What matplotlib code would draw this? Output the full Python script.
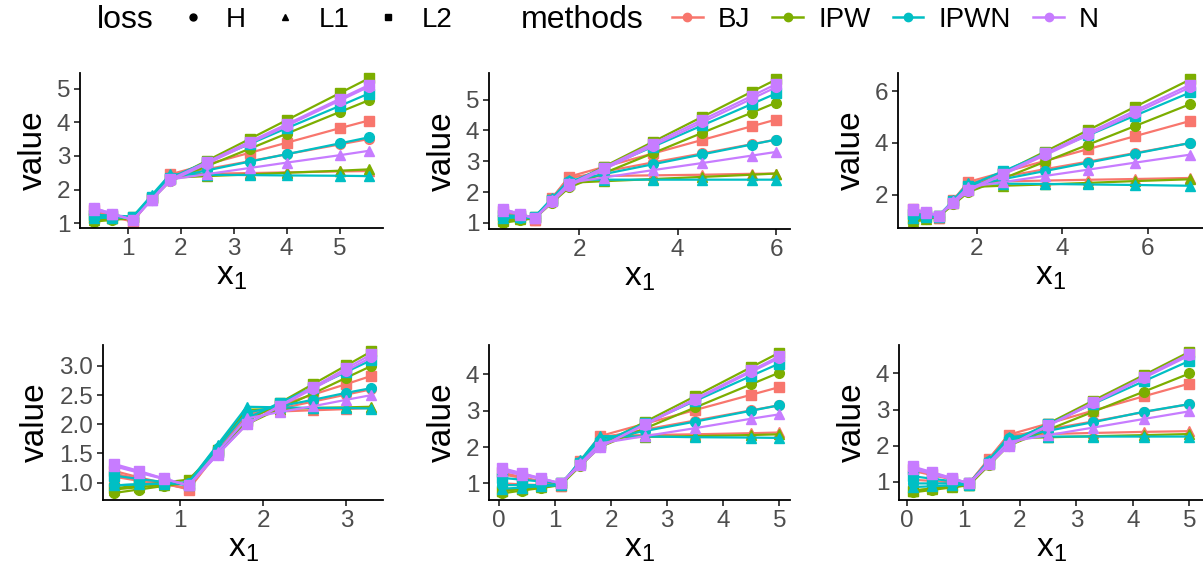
import matplotlib
matplotlib.use("Agg")
import matplotlib.pyplot as plt
from matplotlib.lines import Line2D

plt.rcParams['font.family'] = ['Liberation Sans', 'DejaVu Sans']

methods = ["BJ", "IPW", "IPWN", "N"]
losses = ["H", "L1", "L2"]
colors = {"BJ": "#F8766D", "IPW": "#7CAE00", "IPWN": "#00BFC4", "N": "#C77CFF"}
markers = {"H": "o", "L1": "^", "L2": "s"}

# rows: BJ H, BJ L1, BJ L2, IPW H, IPW L1, IPW L2, IPWN H, IPWN L1, IPWN L2, N H, N L1, N L2
x_p1 = [0.37, 0.7, 1.1, 1.45, 1.8, 2.5, 3.3, 4.0, 5.0, 5.55]
vals_p1 = [
    [1.35, 1.24, 1.10, 1.75, 2.40, 2.61, 2.84, 3.05, 3.34, 3.50],
    [1.30, 1.19, 1.05, 1.75, 2.45, 2.47, 2.49, 2.51, 2.54, 2.55],
    [1.40, 1.24, 1.05, 1.75, 2.45, 2.75, 3.09, 3.39, 3.82, 4.05],
    [1.05, 1.10, 1.15, 1.70, 2.25, 2.70, 3.21, 3.66, 4.30, 4.65],
    [1.10, 1.15, 1.20, 1.78, 2.35, 2.40, 2.45, 2.50, 2.56, 2.60],
    [1.15, 1.17, 1.20, 1.75, 2.30, 2.86, 3.50, 4.06, 4.86, 5.30],
    [1.20, 1.18, 1.15, 1.75, 2.35, 2.57, 2.83, 3.05, 3.37, 3.55],
    [1.15, 1.17, 1.20, 1.83, 2.45, 2.44, 2.43, 2.42, 2.41, 2.40],
    [1.25, 1.23, 1.20, 1.78, 2.35, 2.82, 3.35, 3.82, 4.48, 4.85],
    [1.45, 1.29, 1.10, 1.68, 2.25, 2.77, 3.37, 3.89, 4.64, 5.05],
    [1.40, 1.27, 1.10, 1.70, 2.30, 2.46, 2.64, 2.80, 3.02, 3.15],
    [1.45, 1.29, 1.10, 1.70, 2.30, 2.82, 3.42, 3.94, 4.69, 5.10],
]

x_p2 = [0.45, 0.8, 1.1, 1.45, 1.8, 2.5, 3.5, 4.5, 5.5, 6.0]
vals_p2 = [
    [1.35, 1.22, 1.10, 1.78, 2.45, 2.66, 2.96, 3.25, 3.55, 3.70],
    [1.30, 1.19, 1.10, 1.80, 2.50, 2.52, 2.54, 2.56, 2.59, 2.60],
    [1.40, 1.24, 1.10, 1.80, 2.50, 2.81, 3.25, 3.69, 4.13, 4.35],
    [1.00, 1.08, 1.15, 1.65, 2.15, 2.61, 3.26, 3.92, 4.57, 4.90],
    [1.05, 1.13, 1.20, 1.75, 2.30, 2.35, 2.42, 2.49, 2.56, 2.60],
    [1.10, 1.15, 1.20, 1.73, 2.25, 2.82, 3.63, 4.44, 5.25, 5.65],
    [1.20, 1.17, 1.15, 1.75, 2.35, 2.58, 2.90, 3.22, 3.54, 3.70],
    [1.15, 1.18, 1.20, 1.80, 2.40, 2.40, 2.40, 2.40, 2.40, 2.40],
    [1.25, 1.22, 1.20, 1.75, 2.30, 2.78, 3.47, 4.16, 4.85, 5.20],
    [1.45, 1.29, 1.15, 1.68, 2.20, 2.73, 3.50, 4.26, 5.02, 5.40],
    [1.40, 1.27, 1.15, 1.73, 2.30, 2.47, 2.71, 2.94, 3.18, 3.30],
    [1.45, 1.29, 1.15, 1.70, 2.25, 2.79, 3.57, 4.34, 5.11, 5.50],
]

x_p3 = [0.5, 0.8, 1.1, 1.45, 1.8, 2.6, 3.6, 4.6, 5.7, 7.0]
vals_p3 = [
    [1.35, 1.23, 1.10, 1.78, 2.45, 2.69, 2.99, 3.28, 3.61, 4.00],
    [1.30, 1.20, 1.10, 1.80, 2.50, 2.52, 2.55, 2.58, 2.61, 2.65],
    [1.45, 1.28, 1.10, 1.80, 2.50, 2.86, 3.31, 3.76, 4.26, 4.85],
    [0.95, 1.05, 1.15, 1.63, 2.10, 2.62, 3.28, 3.93, 4.65, 5.50],
    [1.00, 1.08, 1.15, 1.73, 2.30, 2.35, 2.40, 2.46, 2.53, 2.60],
    [1.05, 1.13, 1.20, 1.70, 2.20, 2.85, 3.67, 4.49, 5.39, 6.45],
    [1.20, 1.18, 1.15, 1.75, 2.35, 2.60, 2.92, 3.24, 3.59, 4.00],
    [1.10, 1.13, 1.15, 1.80, 2.45, 2.43, 2.42, 2.40, 2.38, 2.35],
    [1.25, 1.23, 1.20, 1.78, 2.35, 2.90, 3.60, 4.29, 5.05, 5.95],
    [1.45, 1.33, 1.20, 1.68, 2.15, 2.77, 3.53, 4.30, 5.15, 6.15],
    [1.40, 1.30, 1.20, 1.75, 2.30, 2.49, 2.73, 2.97, 3.24, 3.55],
    [1.45, 1.33, 1.20, 1.70, 2.20, 2.82, 3.60, 4.38, 5.24, 6.25],
]

x_p4 = [0.2, 0.5, 0.8, 1.1, 1.45, 1.8, 2.2, 2.6, 3.0, 3.3]
vals_p4 = [
    [1.15, 1.07, 0.98, 0.90, 1.53, 2.15, 2.27, 2.39, 2.51, 2.60],
    [1.10, 1.03, 0.97, 0.90, 1.55, 2.20, 2.22, 2.24, 2.26, 2.28],
    [1.20, 1.09, 0.99, 0.88, 1.52, 2.15, 2.33, 2.51, 2.69, 2.83],
    [0.82, 0.88, 0.94, 1.00, 1.50, 2.00, 2.27, 2.53, 2.80, 3.00],
    [0.88, 0.92, 0.96, 1.00, 1.63, 2.25, 2.26, 2.28, 2.29, 2.30],
    [0.90, 0.95, 1.00, 1.05, 1.55, 2.05, 2.37, 2.69, 3.01, 3.25],
    [0.95, 0.97, 0.98, 1.00, 1.60, 2.20, 2.31, 2.42, 2.54, 2.62],
    [0.95, 0.97, 0.98, 1.00, 1.65, 2.30, 2.29, 2.28, 2.28, 2.27],
    [1.12, 1.06, 1.01, 0.95, 1.53, 2.10, 2.37, 2.63, 2.90, 3.10],
    [1.30, 1.18, 1.07, 0.95, 1.48, 2.00, 2.31, 2.61, 2.92, 3.15],
    [1.28, 1.17, 1.06, 0.95, 1.53, 2.10, 2.21, 2.31, 2.42, 2.50],
    [1.32, 1.20, 1.07, 0.95, 1.48, 2.00, 2.32, 2.64, 2.96, 3.20],
]

x_p5 = [0.05, 0.4, 0.75, 1.1, 1.45, 1.8, 2.6, 3.5, 4.5, 5.0]
vals_p5 = [
    [1.25, 1.15, 1.05, 0.95, 1.60, 2.25, 2.48, 2.73, 3.01, 3.15],
    [1.00, 0.97, 0.95, 0.92, 1.61, 2.30, 2.33, 2.35, 2.38, 2.40],
    [1.30, 1.17, 1.05, 0.92, 1.61, 2.30, 2.64, 3.02, 3.44, 3.65],
    [0.72, 0.80, 0.87, 0.95, 1.48, 2.00, 2.51, 3.09, 3.73, 4.05],
    [0.80, 0.85, 0.90, 0.95, 1.60, 2.25, 2.28, 2.30, 2.33, 2.35],
    [0.78, 0.85, 0.93, 1.00, 1.53, 2.05, 2.69, 3.40, 4.20, 4.60],
    [0.95, 0.95, 0.95, 0.95, 1.58, 2.20, 2.44, 2.70, 3.00, 3.15],
    [0.85, 0.88, 0.92, 0.95, 1.63, 2.30, 2.29, 2.27, 2.26, 2.25],
    [1.15, 1.10, 1.05, 1.00, 1.55, 2.10, 2.65, 3.27, 3.96, 4.30],
    [1.40, 1.27, 1.13, 1.00, 1.50, 2.00, 2.61, 3.30, 4.07, 4.45],
    [1.35, 1.23, 1.12, 1.00, 1.55, 2.10, 2.30, 2.52, 2.78, 2.90],
    [1.42, 1.28, 1.14, 1.00, 1.50, 2.00, 2.63, 3.33, 4.11, 4.50],
]

x_p6 = [0.1, 0.45, 0.8, 1.1, 1.45, 1.8, 2.5, 3.3, 4.2, 5.0]
vals_p6 = [
    [1.30, 1.18, 1.06, 0.95, 1.60, 2.25, 2.45, 2.67, 2.93, 3.15],
    [1.05, 1.02, 0.98, 0.95, 1.63, 2.30, 2.32, 2.35, 2.38, 2.40],
    [1.35, 1.21, 1.07, 0.95, 1.63, 2.30, 2.61, 2.97, 3.37, 3.72],
    [0.70, 0.77, 0.84, 0.90, 1.45, 2.00, 2.44, 2.94, 3.50, 4.00],
    [0.75, 0.80, 0.86, 0.90, 1.55, 2.20, 2.23, 2.26, 2.29, 2.32],
    [0.75, 0.81, 0.87, 0.92, 1.49, 2.05, 2.61, 3.25, 3.96, 4.60],
    [0.95, 0.95, 0.95, 0.95, 1.58, 2.20, 2.41, 2.65, 2.94, 3.15],
    [0.85, 0.87, 0.90, 0.92, 1.59, 2.25, 2.25, 2.25, 2.25, 2.25],
    [1.15, 1.08, 1.01, 0.95, 1.53, 2.10, 2.59, 3.16, 3.79, 4.35],
    [1.40, 1.24, 1.09, 0.95, 1.48, 2.00, 2.55, 3.17, 3.88, 4.50],
    [1.35, 1.21, 1.07, 0.95, 1.53, 2.10, 2.29, 2.50, 2.74, 2.95],
    [1.42, 1.26, 1.10, 0.95, 1.48, 2.00, 2.56, 3.20, 3.91, 4.55],
]

W, H = 1203, 578
fig = plt.figure(figsize=(W / 100, H / 100), dpi=100)

panels = [
    # (x, vals, pixel box left,right,top,bottom, xlim, ylim, xticks, yticks, yfmt)
    (x_p1, vals_p1, (80, 383, 73, 228), (0.1, 5.82), (0.86, 5.46), [1, 2, 3, 4, 5], [1, 2, 3, 4, 5], "%g"),
    (x_p2, vals_p2, (489, 790, 73, 229), (0.17, 6.28), (0.8, 5.86), [2, 4, 6], [1, 2, 3, 4, 5], "%g"),
    (x_p3, vals_p3, (898, 1203, 73, 228), (0.15, 7.3), (0.72, 6.7), [2, 4, 6], [2, 4, 6], "%g"),
    (x_p4, vals_p4, (103, 383, 345, 500), (0.07, 3.44), (0.7, 3.36), [1, 2, 3], [1.0, 1.5, 2.0, 2.5, 3.0], "%.1f"),
    (x_p5, vals_p5, (489, 790, 345, 500), (-0.18, 5.19), (0.54, 4.81), [0, 1, 2, 3, 4, 5], [1, 2, 3, 4], "%g"),
    (x_p6, vals_p6, (899, 1203, 345, 500), (-0.14, 5.24), (0.49, 4.79), [0, 1, 2, 3, 4, 5], [1, 2, 3, 4], "%g"),
]

for xs, vals, box, xlim, ylim, xt, yt, yfmt in panels:
    l, r, t, b = box
    ax = fig.add_axes([l / W, 1 - b / H, (r - l) / W, (b - t) / H])
    i = 0
    for m in methods:
        for ls in losses:
            ax.plot(xs, vals[i], color=colors[m], marker=markers[ls], ms=7,
                    lw=1.6, clip_on=False)
            i += 1
    ax.set_xlim(*xlim)
    ax.set_ylim(*ylim)
    ax.set_xticks(xt)
    ax.set_yticks(yt)
    ax.set_yticklabels([yfmt % v for v in yt])
    for s in ["top", "right"]:
        ax.spines[s].set_visible(False)
    for s in ["left", "bottom"]:
        ax.spines[s].set_linewidth(1.3)
    ax.tick_params(labelsize=17.5, labelcolor="#4D4D4D", color="#333333",
                   length=4, width=1.3, pad=3)
    ax.set_ylabel("value", fontsize=24, labelpad=6)
    ax.set_xlabel(r"$\mathregular{x_1}$", fontsize=24, labelpad=1)

# legends at the top
yc = 1 - 20 / H
fig.text(97 / W, yc, "loss", fontsize=23, va="center", ha="left")
loss_handles = [Line2D([], [], ls="none", marker=markers[s], color="black", ms=5) for s in losses]
fig.legend(loss_handles, losses, loc="center left", bbox_to_anchor=(179 / W, yc),
           ncol=3, frameon=False, fontsize=20, handlelength=1.0, handletextpad=0.7,
           columnspacing=0.9, borderpad=0, borderaxespad=0)

fig.text(521 / W, yc, "methods", fontsize=23, va="center", ha="left")
meth_handles = [Line2D([], [], color=colors[m], marker="o", ms=6, lw=1.8) for m in methods]
fig.legend(meth_handles, methods, loc="center left", bbox_to_anchor=(672 / W, yc),
           ncol=4, frameon=False, fontsize=20, handlelength=1.1, handletextpad=0.55,
           columnspacing=0.8, borderpad=0, borderaxespad=0)

fig.savefig("out.png", dpi=100)
